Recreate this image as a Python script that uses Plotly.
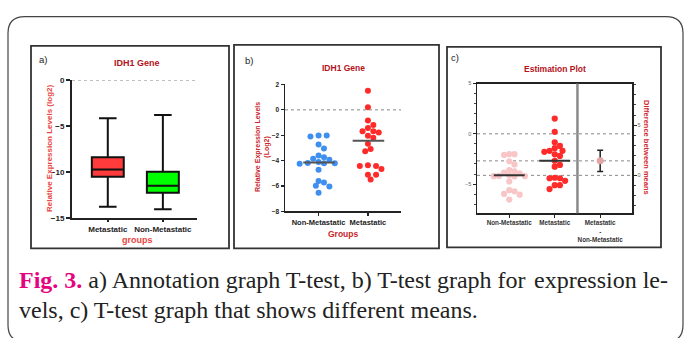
import numpy as np
import plotly.graph_objects as go

W, H = 684, 338

# ---------------- data ----------------
# panel a: box plot summary (log2 relative expression)
a_groups = ["Metastatic", "Non-Metastatic"]
a_low = [-13.77, -14.02]
a_q1 = [-10.49, -12.25]
a_median = [-9.71, -11.48]
a_q3 = [-8.37, -9.96]
a_high = [-4.13, -3.78]

# panels b and c: individual samples
non_metastatic = [-2.02, -2.02, -2.10, -2.73, -3.04, -3.60, -3.86, -3.73, -3.93, -4.11,
                  -4.21, -4.24, -4.21, -4.19, -4.73, -5.60, -5.72, -5.98, -6.05, -6.54]
metastatic = [1.51, 0.20, -0.84, -1.20, -1.69, -1.69, -1.43, -1.79, -2.04, -2.20,
              -2.68, -3.09, -3.27, -4.37, -4.42, -4.42, -4.67, -5.11, -5.11, -5.49]
b_groups = ["Non-Metastatic", "Metastatic"]
c_groups = ["Non-Metastatic", "Metastatic", "Metastatic<br>-<br>Non-Metastatic"]

caption_1a = "a) Annotation graph T-test, b) T-test graph for"
caption_1b = "expression le-"
caption_2 = "vels, c) T-test graph that shows different means."

# ---------------- helpers ----------------
def px(x):
    return x / W


def py(y):
    return 1 - y / H


def swarm(values, ppu_y, ppu_x, diam, step):
    vals = np.asarray(values, dtype=float)
    order = np.argsort(-vals, kind="stable")
    placed = []
    off = np.zeros(len(vals))
    cands = [0.0] + [s * j * step for j in range(1, 40) for s in (1, -1)]
    for i in order:
        y = vals[i] * ppu_y
        for c in cands:
            if all((c - qx) ** 2 + (y - qy) ** 2 >= diam ** 2 - 1e-9 for qx, qy in placed):
                break
        placed.append((c, y))
        off[i] = c / ppu_x
    return off


FONT = "Liberation Sans, Arial, sans-serif"
DARKRED = "#b3121c"
LIGHTRED = "#e8453f"
BLUE = "#3e8ff0"
RED = "#ff2a2a"
PINK = "#f8c6c6"

fig = go.Figure()

# ---------------- panel a ----------------
box_colors = ["#ff3b3b", "#00ff00"]
for i, g in enumerate(a_groups):
    fig.add_trace(go.Box(
        x=[i], q1=[a_q1[i]], median=[a_median[i]], q3=[a_q3[i]],
        lowerfence=[a_low[i]], upperfence=[a_high[i]],
        fillcolor=box_colors[i], line=dict(color="#111", width=2),
        width=0.58, whiskerwidth=0.55, boxpoints=False,
        xaxis="x", yaxis="y", showlegend=False, hoverinfo="skip"))

# ---------------- panel b ----------------
b_data = [non_metastatic, metastatic]
b_colors = [BLUE, RED]
for i, vals in enumerate(b_data):
    off = swarm(vals, 13.05, 49.3, 5.5, 2.7)
    fig.add_trace(go.Scatter(
        x=i + off, y=vals, mode="markers",
        marker=dict(size=6, color=b_colors[i], line=dict(width=0)),
        xaxis="x2", yaxis="y2", showlegend=False, hoverinfo="skip"))
    med = float(np.median(vals))
    fig.add_trace(go.Scatter(
        x=[i - 0.31, i + 0.33], y=[med, med], mode="lines",
        line=dict(color="#555", width=2),
        xaxis="x2", yaxis="y2", showlegend=False, hoverinfo="skip"))

# ---------------- panel c ----------------
c_colors = [PINK, RED]
means = []
for i, vals in enumerate(b_data):
    off = swarm(vals, 10.33, 45.5, 5.2, 2.6)
    fig.add_trace(go.Scatter(
        x=i + off, y=vals, mode="markers",
        marker=dict(size=6.2, color=c_colors[i], line=dict(width=0)),
        xaxis="x3", yaxis="y3", showlegend=False, hoverinfo="skip"))
    means.append(float(np.mean(vals)))
for i, m in enumerate(means):
    fig.add_trace(go.Scatter(
        x=[i - 0.34, i + 0.34], y=[m, m], mode="lines",
        line=dict(color="#333", width=2),
        xaxis="x3", yaxis="y3", showlegend=False, hoverinfo="skip"))

n1, n2 = len(non_metastatic), len(metastatic)
s1, s2 = np.std(non_metastatic, ddof=1), np.std(metastatic, ddof=1)
sp = np.sqrt(((n1 - 1) * s1 ** 2 + (n2 - 1) * s2 ** 2) / (n1 + n2 - 2))
se = sp * np.sqrt(1 / n1 + 1 / n2)
diff = means[1] - means[0]
ci = 2.024 * se
fig.add_trace(go.Scatter(
    x=[2], y=[diff], mode="markers",
    marker=dict(size=7, color="#e2a4a4"),
    error_y=dict(type="data", array=[ci], color="#222", thickness=1.5, width=3),
    xaxis="x3", yaxis="y4", showlegend=False, hoverinfo="skip"))

c_ylo, c_yhi = -7.9, 5.0

# ---------------- axes ----------------
tickf = dict(family=FONT, size=8, color="#222", weight="bold")
common = dict(showgrid=False, zeroline=False, showline=True, linecolor="#222",
              ticks="outside", tickcolor="#222", fixedrange=True)

fig.update_layout(
    width=W, height=H, margin=dict(l=0, r=0, t=0, b=0), autosize=False,
    paper_bgcolor="white", plot_bgcolor="rgba(0,0,0,0)", showlegend=False,
    xaxis=dict(domain=[px(72), px(197)], range=[-0.65, 1.62], anchor="y",
               tickvals=[0, 1], ticktext=a_groups, linewidth=2, ticklen=2,
               tickwidth=1.5, tickfont=tickf, **common),
    yaxis=dict(domain=[py(220), py(78.3)], range=[-15, 0], anchor="x",
               tickvals=[0, -5, -10, -15], linewidth=2, ticklen=4, tickwidth=1.5,
               tickfont=tickf, **common),
    xaxis2=dict(domain=[px(285), px(401)], range=[-0.68, 1.67], anchor="y2",
                tickvals=[0, 1], ticktext=b_groups, linewidth=1.5, ticklen=3,
                tickwidth=1.2, tickfont=dict(family=FONT, size=7.5, color="#222", weight="bold"),
                **common),
    yaxis2=dict(domain=[py(213), py(82.7)], range=[-8, 2], anchor="x2",
                tickvals=[-8, -6, -4, -2, 0, 2], linewidth=1.5, ticklen=3, tickwidth=1.2,
                tickfont=dict(family=FONT, size=6.5, color="#222", weight="bold"), **common),
    xaxis3=dict(domain=[px(477), px(632)], range=[-0.71, 2.7], anchor="y3",
                tickvals=[0, 1, 2], ticktext=c_groups, linewidth=1.5, ticklen=3,
                tickwidth=1, mirror=True,
                tickfont=dict(family=FONT, size=6.3, color="#333", weight="bold"), **common),
    yaxis3=dict(domain=[py(215), py(81.7)], range=[c_ylo, c_yhi], anchor="x3",
                tickvals=[-5, 0, 5], linewidth=1.5, ticklen=3, tickwidth=1, mirror=True,
                minor=dict(dtick=1, ticks="outside", ticklen=2, tickcolor="#444"),
                tickfont=dict(family=FONT, size=5.5, color="#666"), **common),
    yaxis4=dict(overlaying="y3", side="right", anchor="x3",
                range=[c_ylo - means[0], c_yhi - means[0]], tickvals=[0, 5],
                linewidth=1.5, ticklen=3, tickwidth=1,
                minor=dict(dtick=1, ticks="outside", ticklen=2, tickcolor="#444"),
                tickfont=dict(family=FONT, size=5.5, color="#666"), **common),
)

# ---------------- shapes ----------------
shapes = []
dot = dict(color="#888", width=1, dash="dot")
shapes.append(dict(type="line", xref="x domain", yref="y", x0=0, x1=1, y0=0, y1=0, line=dot))
shapes.append(dict(type="line", xref="x2 domain", yref="y2", x0=0, x1=1, y0=0, y1=0, line=dot))
for yv in [0, means[1], means[0]]:
    shapes.append(dict(type="line", xref="x3 domain", yref="y3", x0=0, x1=1, y0=yv, y1=yv,
                       line=dot, layer="below"))
shapes.append(dict(type="line", xref="x3", yref="y3 domain", x0=1.5, x1=1.5, y0=0, y1=1,
                   line=dict(color="#8a8a8a", width=2.5)))

# panel frames
for (x0, y0, x1, y1) in [(31, 43, 229, 251), (234, 42, 439, 251), (447, 44, 661, 250)]:
    shapes.append(dict(type="rect", xref="paper", yref="paper",
                       x0=px(x0), x1=px(x1), y0=py(y1), y1=py(y0),
                       line=dict(color="#333", width=1.8)))

# outer rounded frame
X0, X1, Y0, Y1, R = 8, 683, 13, 347, 17
rx, ry = R / W, R / H
a0, a1, b0, b1 = px(X0), px(X1), py(Y0), py(Y1)
path = (f"M {a0+rx},{b0} L {a1-rx},{b0} Q {a1},{b0} {a1},{b0-ry} "
        f"L {a1},{b1+ry} Q {a1},{b1} {a1-rx},{b1} L {a0+rx},{b1} "
        f"Q {a0},{b1} {a0},{b1+ry} L {a0},{b0-ry} Q {a0},{b0} {a0+rx},{b0} Z")
shapes.append(dict(type="path", xref="paper", yref="paper", path=path,
                   line=dict(color="#444", width=1.2)))
fig.update_layout(shapes=shapes)

# ---------------- annotations ----------------
ann = []


def text(x, y, s, size, color="#222", bold=False, angle=0, xanchor="center", family=FONT):
    ann.append(dict(x=px(x), y=py(y), xref="paper", yref="paper", text=s, showarrow=False,
                    xanchor=xanchor, yanchor="middle", textangle=angle,
                    font=dict(family=family, size=size, color=color,
                              weight="bold" if bold else "normal")))


# panel a
text(43, 57, "a)", 9.5, "#222")
text(137, 61, "IDH1 Gene", 9, DARKRED, bold=True)
text(49, 149, "Relative Expression Levels (log2)", 8, LIGHTRED, bold=True, angle=-90)
text(137, 242, "groups", 9, LIGHTRED, bold=True)
# panel b
text(249, 58, "b)", 9.5, "#222")
text(343, 66, "IDH1 Gene", 8.5, DARKRED, bold=True)
text(262, 147, "Relative Expression Levels<br>(Log2)", 7, "#c8262b", bold=True, angle=-90)
text(343, 236, "Groups", 8.5, "#c8262b", bold=True)
# panel c
text(455, 55, "c)", 9.5, "#222")
text(555, 67, "Estimation Plot", 8.5, DARKRED, bold=True)
text(647, 147, "Difference between means", 7.5, "#d1282d", bold=True, angle=90)

# caption
SERIF = "Liberation Serif, Times New Roman, serif"
CAP = 24
ann.append(dict(x=px(17), y=py(284), xref="paper", yref="paper", showarrow=False,
                xanchor="left", yanchor="middle",
                text="<span style='color:#e4047f'><b>Fig. 3.</b></span> " + caption_1a,
                font=dict(family=SERIF, size=CAP, color="#222")))
ann.append(dict(x=px(670), y=py(284), xref="paper", yref="paper", showarrow=False,
                xanchor="right", yanchor="middle", text=caption_1b,
                font=dict(family=SERIF, size=CAP, color="#222")))
ann.append(dict(x=px(17), y=py(314), xref="paper", yref="paper", showarrow=False,
                xanchor="left", yanchor="middle", text=caption_2,
                font=dict(family=SERIF, size=CAP, color="#222")))
fig.update_layout(annotations=ann)

fig.write_html("out.html", config={"displayModeBar": False, "staticPlot": True},
               post_script="document.body.style.margin='0px';")
